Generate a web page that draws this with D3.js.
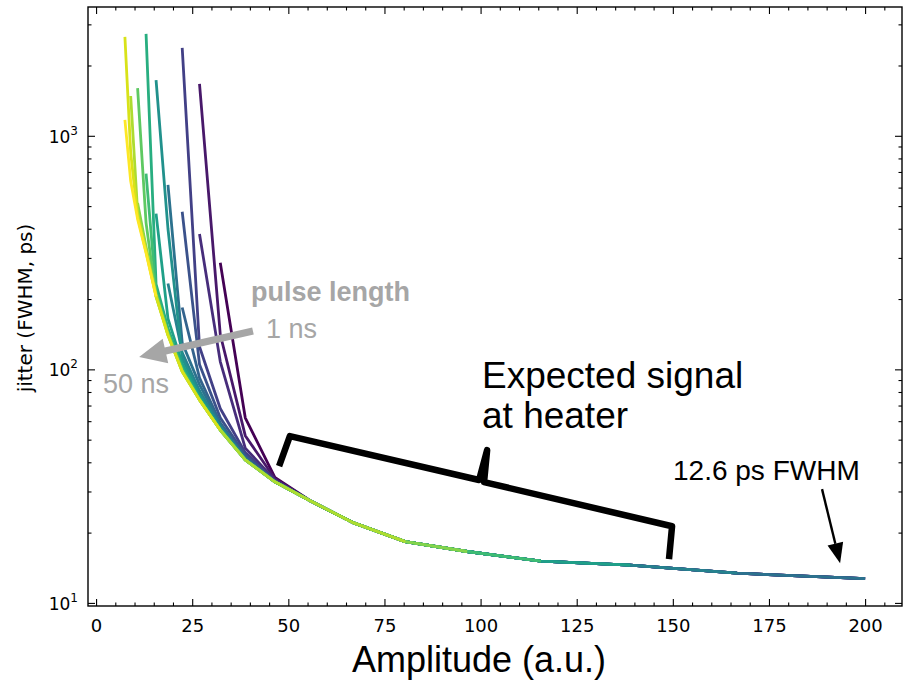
<!DOCTYPE html>
<html>
<head>
<meta charset="utf-8">
<script src="https://cdn.jsdelivr.net/npm/d3@7"></script>
<style>
  body { margin: 0; background: #fff; }
</style>
</head>
<body>
<svg id="chart" width="904" height="681"></svg>
<script>
// amplitude grid (a.u.) that every pulse-length curve is sampled on
var amplitude = [7.5, 9.0, 10.8, 13.0, 15.6, 18.7, 22.4, 26.9, 32.3, 38.8,
                 46.5, 55.8, 67.0, 80.4, 96.5, 115.7, 138.9, 166.7, 200];

// common lower curve (ps) that all curves fall onto
var envelope = [1170, 640, 440, 315, 205, 140, 98, 74, 55, 41,
                33, 27.3, 22, 18.3, 16.6, 15.1, 14.5, 13.4, 12.7];

// one entry per curve, 1 ns (dark) -> 50 ns (yellow)
var firstIndex = [8, 7, 7, 6, 6, 6, 5, 5, 4, 4, 3, 3, 2, 2, 1, 0, 0];
var lastIndex  = [18, 18, 18, 18, 18, 18, 18, 17, 16, 16, 15, 15, 14, 14, 13, 8, 4];
// jitter values before each curve joins the envelope
var headJitter = [
  [286, 62, 34.5],
  [1670, 141, 52, 34],
  [380, 108, 46, 33.6],
  [2380, 125, 68, 44, 33.3],
  [473, 105, 62, 43, 33.1],
  [184, 92, 59, 42],
  [617, 130, 86, 58, 41.5],
  [233, 118, 81, 57, 41.2],
  [1730, 400, 112, 78, 56],
  [464, 165, 106, 76, 55.5],
  [2730, 232, 150, 102, 75],
  [689, 215, 145, 100, 74.5],
  [1600, 424, 205, 143, 99],
  [515, 335, 210, 141],
  [1480, 472, 325, 207],
  [2650, 850, 450, 318],
  []
];

var xTicks = [0, 25, 50, 75, 100, 125, 150, 175, 200];
var yTicks = [10, 100, 1000];

// annotation anchors in data units (amplitude, jitter)
var braceAt = [[47.6, 38.5], [50.4, 51.8], [99.6, 33.6], [101.7, 45.1],
               [100.9, 32.9], [149.8, 21.3], [149.0, 15.4]];
var pulseArrow = [[40.8, 146], [11.2, 113]];
var fwhmArrow = [[188.8, 30.7], [193.5, 14.8]];

var margin = {top: 7, right: 2, bottom: 75, left: 88};
var width = 904 - margin.left - margin.right;
var height = 681 - margin.top - margin.bottom;

var svg = d3.select('#chart');
var g = svg.append('g')
  .attr('transform', 'translate(' + margin.left + ',' + margin.top + ')');

var x = d3.scaleLinear().domain([-2.1, 209.6]).range([0, width]);
var y = d3.scaleLog().domain([9.7, 3560]).range([height, 0]);

var curves = headJitter.map(function(head, i) {
  var pts = [];
  for (var k = firstIndex[i]; k <= lastIndex[i]; k++) {
    var h = k - firstIndex[i];
    pts.push({a: amplitude[k], j: h < head.length ? head[h] : envelope[k]});
  }
  return pts;
});

var color = function(i) { return d3.interpolateViridis(i / (curves.length - 1)); };

var line = d3.line()
  .x(function(d) { return x(d.a); })
  .y(function(d) { return y(d.j); });

g.append('g')
  .selectAll('path')
  .data(curves)
  .enter()
    .append('path')
      .attr('d', line)
      .attr('fill', 'none')
      .attr('stroke', function(d, i) { return color(i); })
      .attr('stroke-width', 2.8)
      .attr('stroke-linejoin', 'round');

// ---- axes (ticks point inwards on all four sides) ----
var xMinor = d3.range(0, 210, 5).filter(function(v) { return v % 25; });
var yMinor = [];
[10, 100, 1000].forEach(function(dec) {
  for (var m = 2; m <= 9; m++) if (m * dec < 3560) yMinor.push(m * dec);
});

function style(sel, size) {
  sel.select('.domain').remove();
  sel.selectAll('line').attr('stroke', '#000').attr('stroke-width', 1.1);
  sel.attr('font-family', 'DejaVu Sans').attr('font-size', size);
  sel.selectAll('text').attr('fill', '#000');
}

g.append('g').attr('transform', 'translate(0,' + height + ')')
  .call(d3.axisBottom(x).tickValues(xTicks).tickSize(-7).tickPadding(13))
  .call(style, 18);
g.append('g').attr('transform', 'translate(0,' + height + ')')
  .call(d3.axisBottom(x).tickValues(xMinor).tickSize(-3.5).tickFormat(''))
  .call(style, 18);
g.append('g')
  .call(d3.axisTop(x).tickValues(xTicks).tickSize(-7).tickFormat(''))
  .call(style, 18);
g.append('g')
  .call(d3.axisTop(x).tickValues(xMinor).tickSize(-3.5).tickFormat(''))
  .call(style, 18);

g.append('g')
  .call(d3.axisLeft(y).tickValues(yTicks).tickSize(-7).tickFormat(''))
  .call(style, 17);
g.append('g')
  .call(d3.axisLeft(y).tickValues(yMinor).tickSize(-3.5).tickFormat(''))
  .call(style, 17);
g.append('g').attr('transform', 'translate(' + width + ',0)')
  .call(d3.axisRight(y).tickValues(yTicks).tickSize(-7).tickFormat(''))
  .call(style, 17);
g.append('g').attr('transform', 'translate(' + width + ',0)')
  .call(d3.axisRight(y).tickValues(yMinor).tickSize(-3.5).tickFormat(''))
  .call(style, 17);

// 10^n labels
var yl = g.append('g').selectAll('text')
  .data(yTicks)
  .enter()
    .append('text')
      .attr('x', -10)
      .attr('y', function(d) { return y(d) + 7; })
      .attr('text-anchor', 'end')
      .attr('font-family', 'DejaVu Sans')
      .attr('font-size', 17);
yl.append('tspan').text('10');
yl.append('tspan')
  .attr('dy', -8)
  .attr('font-size', 12)
  .text(function(d) { return Math.round(Math.log10(d)); });

// frame
g.append('rect')
  .attr('width', width)
  .attr('height', height)
  .attr('fill', 'none')
  .attr('stroke', '#000')
  .attr('stroke-width', 1.4);

// axis titles
svg.append('text')
  .attr('x', 479).attr('y', 672)
  .attr('text-anchor', 'middle')
  .attr('font-family', 'Liberation Sans, Arial, sans-serif')
  .attr('font-size', 36)
  .text('Amplitude (a.u.)');

svg.append('text')
  .attr('transform', 'translate(32,308) rotate(-90)')
  .attr('text-anchor', 'middle')
  .attr('font-family', 'DejaVu Sans')
  .attr('font-size', 20)
  .text('jitter (FWHM, ps)');

// ---- annotations ----
function px(p) { return [x(p[0]) + margin.left, y(p[1]) + margin.top]; }

// grey "pulse length" arrow
(function() {
  var t = px(pulseArrow[0]), h = px(pulseArrow[1]);
  var dx = h[0] - t[0], dy = h[1] - t[1], len = Math.sqrt(dx * dx + dy * dy);
  var ux = dx / len, uy = dy / len, nx = -uy, ny = ux;
  var hl = 27, sw = 3.6, hw = 12.5;
  var bx = h[0] - ux * hl, by = h[1] - uy * hl;
  var pts = [
    [t[0] + nx * sw, t[1] + ny * sw],
    [bx + nx * sw, by + ny * sw],
    [bx + nx * hw, by + ny * hw],
    h,
    [bx - nx * hw, by - ny * hw],
    [bx - nx * sw, by - ny * sw],
    [t[0] - nx * sw, t[1] - ny * sw]
  ];
  svg.append('polygon')
    .attr('points', pts.map(function(p) { return p.join(','); }).join(' '))
    .attr('fill', '#a6a6a6');
})();

var grey = svg.append('g')
  .attr('font-family', 'Liberation Sans, Arial, sans-serif')
  .attr('font-size', 27)
  .attr('fill', '#a6a6a6');
grey.append('text').attr('x', 251).attr('y', 301)
  .attr('font-weight', 'bold').text('pulse length');
grey.append('text').attr('x', 266).attr('y', 338).text('1 ns');
grey.append('text').attr('x', 103).attr('y', 393).text('50 ns');

// brace
svg.append('path')
  .attr('d', d3.line()(braceAt.map(px)))
  .attr('fill', 'none')
  .attr('stroke', '#000')
  .attr('stroke-width', 6.5)
  .attr('stroke-linejoin', 'round');

var black = svg.append('g')
  .attr('font-family', 'Liberation Sans, Arial, sans-serif')
  .attr('fill', '#000');
black.append('text').attr('x', 482).attr('y', 388).attr('font-size', 37)
  .text('Expected signal');
black.append('text').attr('x', 482).attr('y', 428).attr('font-size', 37)
  .text('at heater');
black.append('text').attr('x', 673).attr('y', 480).attr('font-size', 28)
  .text('12.6 ps FWHM');

// black arrow to the end of the curve
(function() {
  var t = px(fwhmArrow[0]), h = px(fwhmArrow[1]);
  var dx = h[0] - t[0], dy = h[1] - t[1], len = Math.sqrt(dx * dx + dy * dy);
  var ux = dx / len, uy = dy / len, nx = -uy, ny = ux;
  var hl = 20, hw = 8;
  var bx = h[0] - ux * hl, by = h[1] - uy * hl;
  svg.append('line')
    .attr('x1', t[0]).attr('y1', t[1])
    .attr('x2', bx).attr('y2', by)
    .attr('stroke', '#000').attr('stroke-width', 2.4);
  svg.append('polygon')
    .attr('points', [[bx + nx * hw, by + ny * hw], h, [bx - nx * hw, by - ny * hw]]
      .map(function(p) { return p.join(','); }).join(' '))
    .attr('fill', '#000');
})();
</script>
</body>
</html>
